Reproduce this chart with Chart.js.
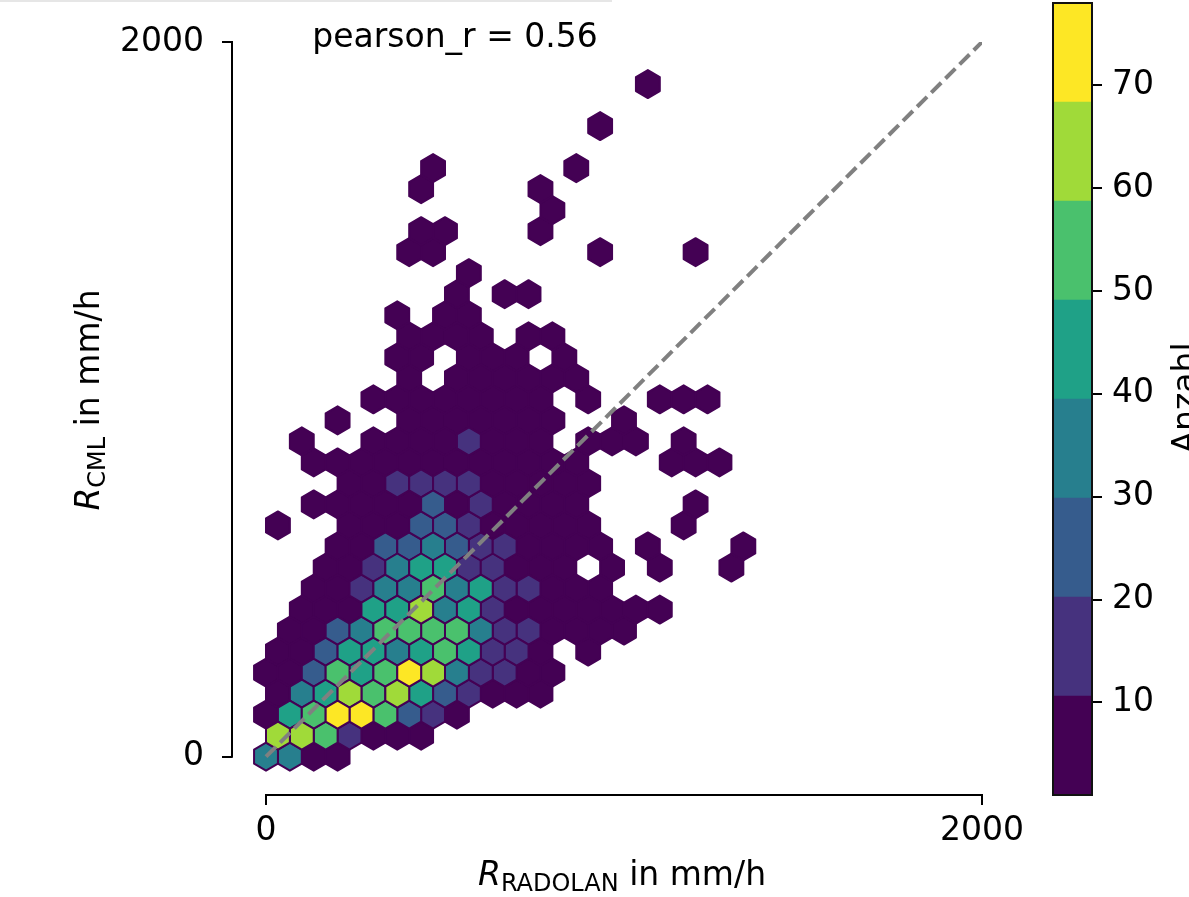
<!DOCTYPE html>
<html><head><meta charset="utf-8">
<script src="https://cdn.jsdelivr.net/npm/chart.js@4.4.1/dist/chart.umd.min.js"></script>
<style>
html,body{margin:0;padding:0;background:#fff;}
#wrap{position:relative;width:1189px;height:897px;overflow:hidden;background:#fff;}
#main{position:absolute;left:0;top:0;}
#cbar{position:absolute;left:1000px;top:-40px;}
#topline{position:absolute;left:0;top:0;width:612px;height:2px;background:#e6e6e6;}
</style></head><body>
<div id="wrap"><canvas id="main" width="1189" height="897"></canvas><canvas id="cbar" width="189" height="937"></canvas><div id="topline"></div></div>
<script>
// ---------- data ----------
const xTicks = [0, 2000];
const yTicks = [0, 2000];
const cbTicks = [10, 20, 30, 40, 50, 60, 70];
const cbBounds = [1, 10.625, 20.25, 29.875, 39.5, 49.125, 58.75, 68.375, 78];
const cbColors = ['#440154','#46327e','#365c8d','#277f8e','#1fa187','#4ac16d','#a0da39','#fde725'];
const pearsonR = 0.56;
const diagX = [0, 2000];
const diagY = [0, 2000];
// hexbin: gridsize 30 over 0..2000; bin row index, first half-column index, counts every 2nd half-column (0 = empty)
const binW = 2000 / 30;
const binH = 2000 / 17;
const hexRow = [0,1,2,3,4,5,6,7,8,9,10,11,12,13,14,15,16,17,18,19,20,21,22,23,24,25,26,27,28,30,32];
const hexFirstCol = [0,1,0,1,0,1,2,3,4,5,6,1,4,7,4,3,6,9,12,11,12,11,16,17,12,13,24,13,14,28,32];
const hexCounts = [
  [35,33,6,3],
  [64,62,55,15,7,4,2],
  [4,45,55,75,74,54,25,14,3],
  [3,35,45,65,55,64,45,25,15,6,3,2],
  [2,5,25,54,45,55,78,64,35,15,12,4,2],
  [2,6,25,45,44,35,45,55,45,15,14,5,0,2],
  [3,8,25,35,55,55,54,55,35,15,13,5,3,2,1],
  [2,6,8,45,45,64,35,45,15,7,5,4,3,2,2,1],
  [3,7,15,35,35,55,35,45,15,14,6,3,2],
  [2,6,15,35,45,45,15,15,6,4,2,0,1,0,1,0,0,1],
  [3,7,25,25,35,25,15,15,6,4,2,1,0,1,0,0,0,1],
  [1,0,0,4,6,8,25,25,15,8,5,3,2,1,0,0,0,1],
  [2,3,5,7,8,25,9,15,7,5,3,2,0,0,0,0,1],
  [3,6,15,15,15,15,8,5,3,2,1],
  [1,2,4,6,7,8,9,6,5,3,2,1,0,0,0,1,1,1],
  [1,0,0,3,5,6,8,15,7,5,3,0,1,1,1,0,1],
  [1,0,0,3,4,6,5,4,3,2,0,0,1],
  [1,2,3,4,4,3,2,2,0,1,0,0,1,1,1],
  [2,0,3,3,2,2,1,1],
  [1,2,0,2,2,1,0,1],
  [1,2,2,1,0,1,1],
  [1,0,1,1],
  [1,0,1,1],
  [1],
  [1,1,0,0,0,0,0,0,1,0,0,0,1],
  [1,1,0,0,0,1],
  [1],
  [1,0,0,0,0,1],
  [1,0,0,0,0,0,1],
  [1],
  [1]
];

// ---------- build ----------
const hexPoints = [];
hexRow.forEach((r, i) => {
  hexCounts[i].forEach((c, j) => {
    if (c > 0) {
      const k = hexFirstCol[i] + 2 * j;
      hexPoints.push({x: k * binW / 2, y: r * binH / 2, c: c});
    }
  });
});
hexPoints.sort((a, b) => a.c - b.c);
const diagPoints = diagX.map((v, i) => ({x: v, y: diagY[i]}));

function colorFor(c) {
  for (let i = 0; i < cbColors.length; i++) {
    if (c < cbBounds[i + 1]) return cbColors[i];
  }
  return cbColors[cbColors.length - 1];
}

const FONT = 'DejaVu Sans';

const hexPlugin = {
  id: 'hexbin',
  beforeDatasetsDraw(chart) {
    const ctx = chart.ctx, xs = chart.scales.x, ys = chart.scales.y;
    const offs = [[0.5,-1/6],[0.5,1/6],[0,1/3],[-0.5,1/6],[-0.5,-1/6],[0,-1/3]];
    ctx.save();
    ctx.lineJoin = 'round';
    ctx.lineWidth = 2;
    ctx.strokeStyle = cbColors[0];
    for (const p of chart.data.datasets[0].data) {
      ctx.beginPath();
      offs.forEach(([dx, dy], i) => {
        const px = xs.getPixelForValue(p.x + dx * binW);
        const py = ys.getPixelForValue(p.y + dy * binH);
        if (i) ctx.lineTo(px, py); else ctx.moveTo(px, py);
      });
      ctx.closePath();
      ctx.fillStyle = colorFor(p.c);
      ctx.fill();
      ctx.stroke();
    }
    ctx.restore();
  }
};

function drawRich(ctx, parts, cx, baseY) {
  let w = 0;
  parts.forEach(p => { ctx.font = p.font; p.w = ctx.measureText(p.t).width; w += p.w; });
  let xx = cx - w / 2;
  ctx.textAlign = 'left';
  ctx.textBaseline = 'alphabetic';
  parts.forEach(p => { ctx.font = p.font; ctx.fillText(p.t, xx, baseY + p.dy); xx += p.w; });
}

const axisPlugin = {
  id: 'axisDeco',
  afterDraw(chart) {
    const ctx = chart.ctx, xs = chart.scales.x, ys = chart.scales.y, ca = chart.chartArea;
    ctx.save();
    ctx.strokeStyle = '#000';
    ctx.lineWidth = 2;
    ctx.lineCap = 'square';
    ctx.beginPath();
    ctx.moveTo(ca.left, ys.getPixelForValue(yTicks[0]));
    ctx.lineTo(ca.left, ys.getPixelForValue(yTicks[yTicks.length - 1]));
    ctx.moveTo(xs.getPixelForValue(xTicks[0]), ca.bottom);
    ctx.lineTo(xs.getPixelForValue(xTicks[xTicks.length - 1]), ca.bottom);
    ctx.stroke();
    ctx.fillStyle = '#000';
    drawRich(ctx, [
      {t: 'R', font: 'italic 33px ' + FONT, dy: 0},
      {t: 'RADOLAN', font: '24px ' + FONT, dy: 6},
      {t: ' in mm/h', font: '33px ' + FONT, dy: 0}
    ], 622, 885);
    ctx.save();
    ctx.translate(99, 400);
    ctx.rotate(-Math.PI / 2);
    drawRich(ctx, [
      {t: 'R', font: 'italic 33px ' + FONT, dy: 0},
      {t: 'CML', font: '24px ' + FONT, dy: 6},
      {t: ' in mm/h', font: '33px ' + FONT, dy: 0}
    ], 0, 0);
    ctx.restore();
    ctx.font = '33px ' + FONT;
    ctx.textAlign = 'center';
    ctx.textBaseline = 'alphabetic';
    ctx.fillText('pearson_r = ' + pearsonR.toFixed(2), 455, 47);
    ctx.restore();
  }
};

const tickFont = {family: FONT, size: 33};

new Chart(document.getElementById('main'), {
  type: 'scatter',
  data: {
    datasets: [
      {label: 'hexbin', data: hexPoints, pointRadius: 0, pointHoverRadius: 0, order: 2},
      {type: 'line', label: '1:1', data: diagPoints, borderColor: '#808080', borderWidth: 4,
       borderDash: [14, 6], pointRadius: 0, fill: false, showLine: true, order: 1}
    ]
  },
  options: {
    responsive: false,
    animation: false,
    events: [],
    layout: {padding: {left: 0, top: 42, right: 207, bottom: 0}},
    plugins: {legend: {display: false}, tooltip: {enabled: false}},
    scales: {
      x: {
        type: 'linear', min: -94.97, max: 2000,
        afterBuildTicks: s => { s.ticks = xTicks.map(v => ({value: v})); },
        afterFit: s => { s.height = 102; },
        grid: {drawOnChartArea: false, drawTicks: true, tickLength: 10, color: '#000', lineWidth: 2},
        border: {display: false},
        ticks: {padding: 7, font: tickFont, color: '#000', maxRotation: 0, callback: v => String(v)}
      },
      y: {
        type: 'linear', min: -107.2, max: 2000,
        afterBuildTicks: s => { s.ticks = yTicks.map(v => ({value: v})); },
        afterFit: s => { s.width = 232; },
        grid: {drawOnChartArea: false, drawTicks: true, tickLength: 10, color: '#000', lineWidth: 2},
        border: {display: false},
        ticks: {padding: 18, font: tickFont, color: '#000', callback: v => String(v)}
      }
    }
  },
  plugins: [hexPlugin, axisPlugin]
});

const cbPlugin = {
  id: 'cbDeco',
  afterDraw(chart) {
    const ctx = chart.ctx, ca = chart.chartArea;
    ctx.save();
    ctx.strokeStyle = '#111';
    ctx.lineWidth = 2;
    ctx.strokeRect(ca.left, ca.top, ca.right - ca.left, ca.bottom - ca.top);
    ctx.translate(196, 438);
    ctx.rotate(-Math.PI / 2);
    ctx.font = '33px ' + FONT;
    ctx.fillStyle = '#000';
    ctx.textAlign = 'center';
    ctx.textBaseline = 'alphabetic';
    ctx.fillText('Anzahl', 0, 0);
    ctx.restore();
  }
};

new Chart(document.getElementById('cbar'), {
  type: 'bar',
  data: {
    labels: ['Anzahl'],
    datasets: cbColors.map((c, i) => ({
      label: String(i), data: [[cbBounds[i], cbBounds[i + 1]]], backgroundColor: c,
      borderWidth: 0, barPercentage: 1, categoryPercentage: 1, grouped: false
    }))
  },
  options: {
    responsive: false,
    animation: false,
    events: [],
    layout: {padding: {left: 53, top: 43, bottom: 102, right: 0}},
    plugins: {legend: {display: false}, tooltip: {enabled: false}},
    scales: {
      x: {display: false},
      y: {
        position: 'right', min: cbBounds[0], max: cbBounds[cbBounds.length - 1],
        afterBuildTicks: s => { s.ticks = cbTicks.map(v => ({value: v})); },
        afterFit: s => { s.width = 97; },
        grid: {drawOnChartArea: false, drawTicks: true, tickLength: 10, color: '#000', lineWidth: 2},
        border: {display: false},
        ticks: {padding: 10, font: tickFont, color: '#000', callback: v => String(v)}
      }
    }
  },
  plugins: [cbPlugin]
});
</script>
</body></html>
